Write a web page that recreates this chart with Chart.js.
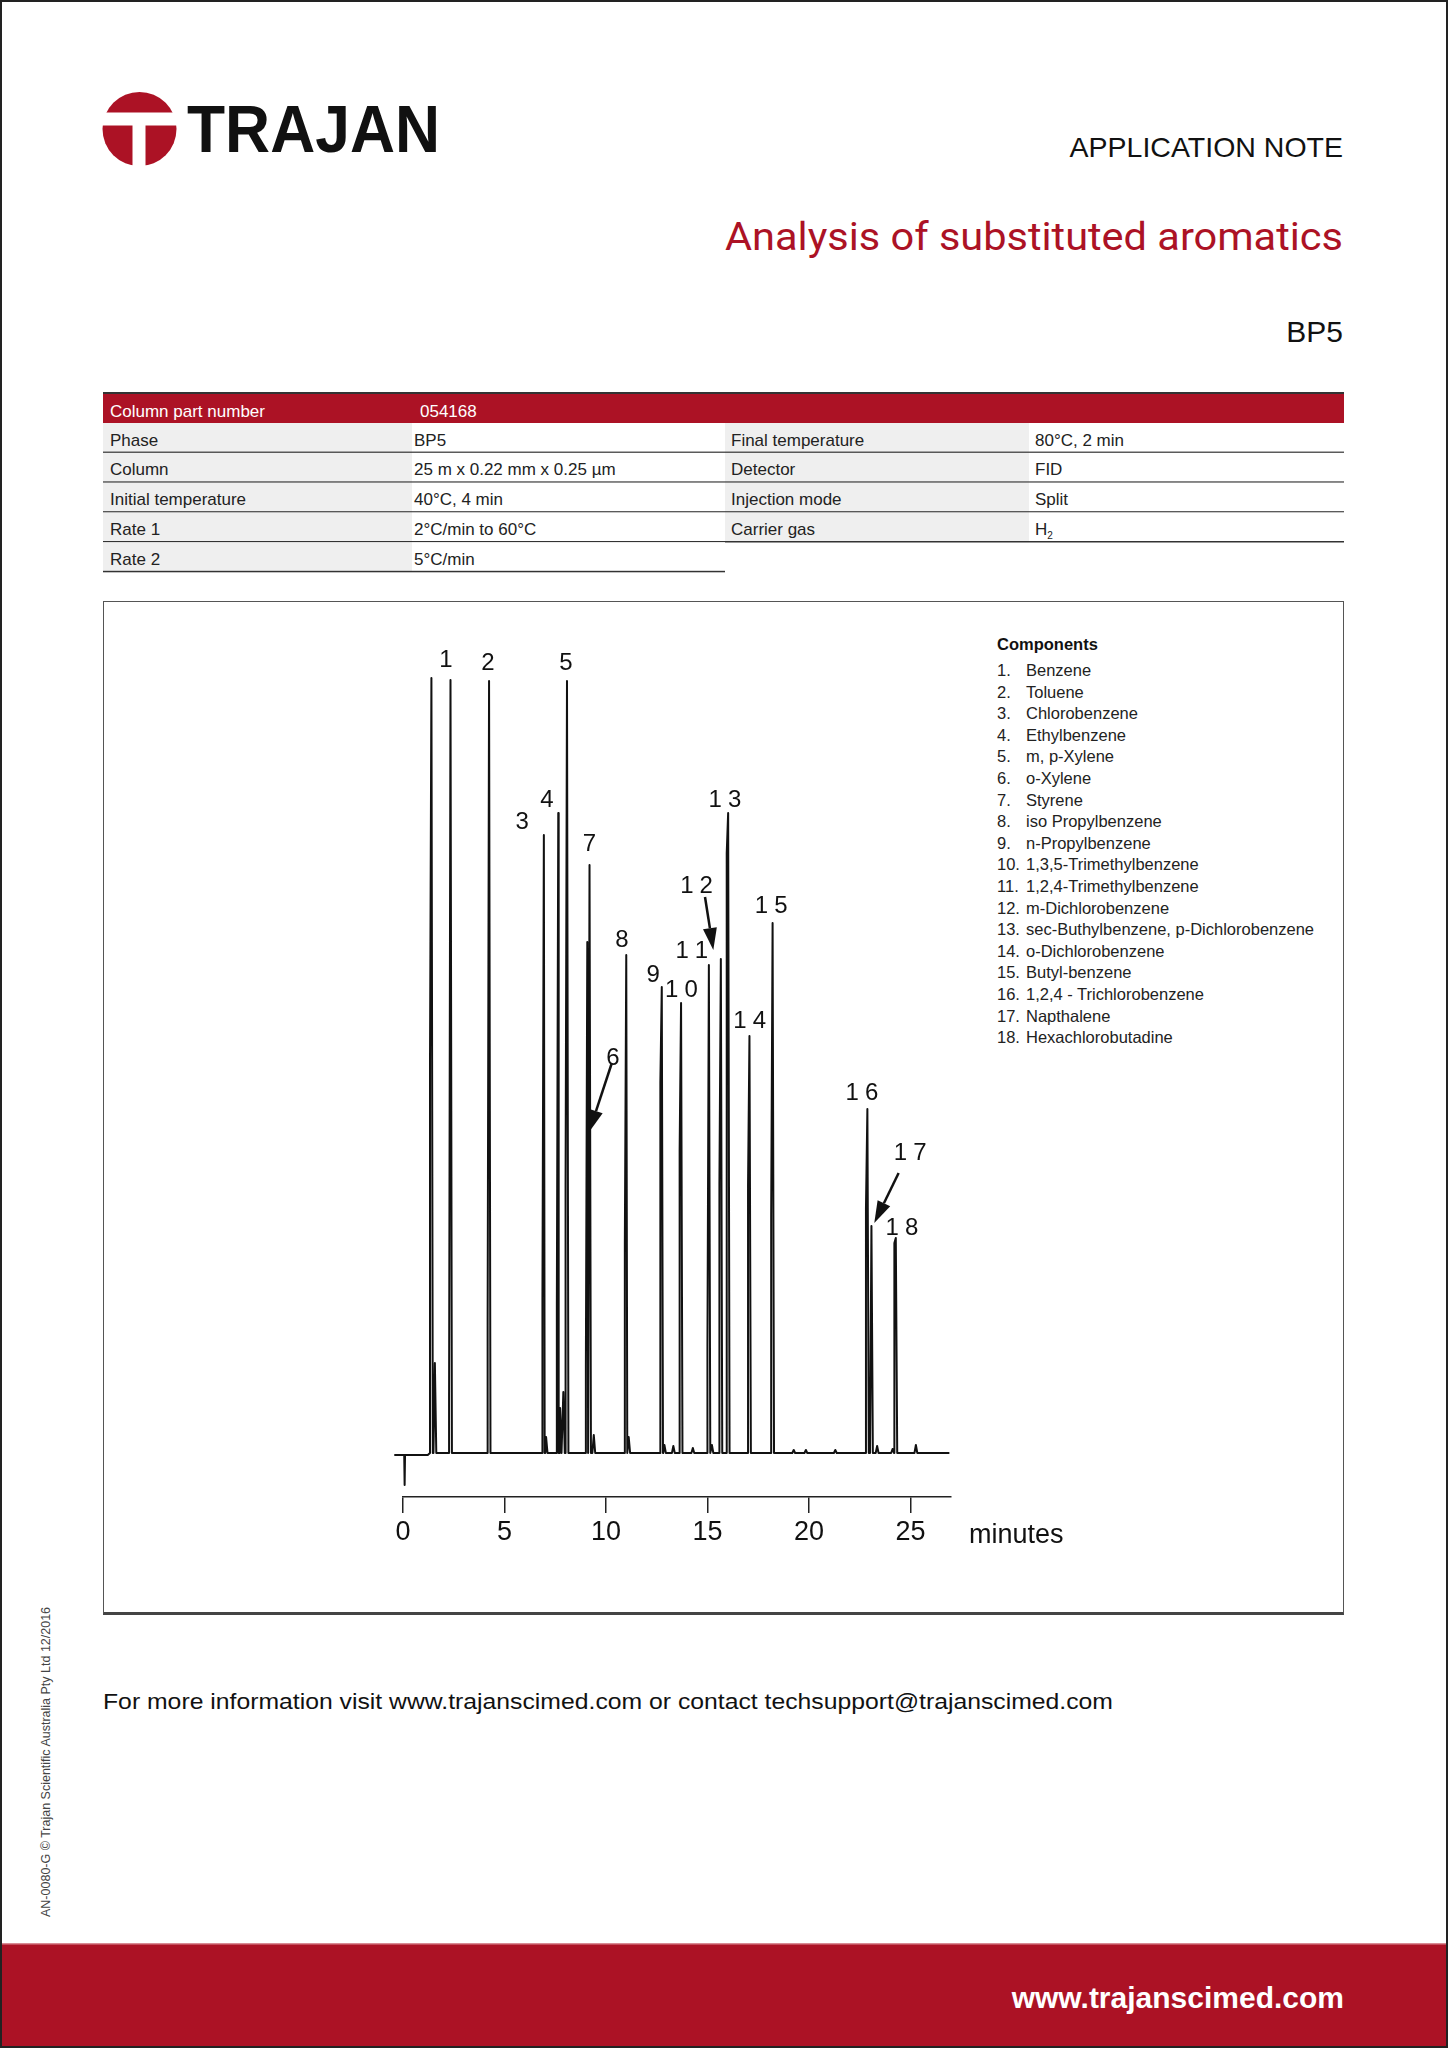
<!DOCTYPE html>
<html>
<head>
<meta charset="utf-8">
<title>Analysis of substituted aromatics - BP5</title>
<script src="https://cdn.jsdelivr.net/npm/chart.js@4.4.1/dist/chart.umd.min.js"></script>
<style>
    html, body { margin: 0; padding: 0; background: #fff; }
    #page { position: relative; width: 1448px; height: 2048px; overflow: hidden; font-family: "Liberation Sans", Arial, sans-serif; }
    #art { position: absolute; left: 0; top: 0; }
    #chartBox { position: absolute; left: 103px; top: 601px; width: 1241px; height: 1014px; box-sizing: border-box; border: 1.5px solid #555; border-bottom: 3px solid #444; }
    #chartWrap { position: absolute; left: 383px; top: 620px; width: 588px; height: 960px; }
    #minutes { position: absolute; left: 969px; top: 1521px; font-size: 27px; line-height: 27px; color: #111; }
    #frame { position: absolute; left: 0; top: 0; width: 1448px; height: 2048px; box-sizing: border-box; border: 2px solid #222; pointer-events: none; }
</style>
</head>
<body>
<div id="page">
    <svg id="art" width="1448" height="2048" xmlns="http://www.w3.org/2000/svg"></svg>
    <div id="chartBox"></div>
    <div id="chartWrap"><canvas id="gc" width="588" height="960" style="width:588px;height:960px"></canvas></div>
    <div id="minutes">minutes</div>
    <div id="frame"></div>
</div>
<script>
// retention time (min), peak height, rising-edge shoulder height (response units)
const peakTimes     = [1.40, 1.57, 2.34, 4.24, 6.94, 7.05, 7.65, 7.74, 7.90, 8.08, 9.08, 9.19, 9.40, 11.00, 11.12, 12.75, 12.88, 13.32, 13.70, 14.28, 15.07, 15.22, 15.66, 16.02, 17.07, 18.21, 19.25, 19.85, 21.30, 22.88, 23.08, 23.36, 24.12, 24.28, 25.27];
const peakHeights   = [77.5, 9.0, 77.3, 77.2, 61.8, 1.6, 64.0, 4.5, 6.1, 77.2, 51.1, 58.8, 1.8, 49.8, 1.6, 46.6, 0.8, 0.7, 45.0, 0.5, 48.8, 0.8, 49.4, 64.0, 41.7, 53.0, 0.3, 0.3, 0.3, 34.4, 22.7, 0.7, 0.4, 21.5, 0.8];
const peakShoulders = [39, 0, 6, 13.5, 15.5, 0, 15.1, 0, 0, 27, 8.8, 0, 0, 21, 0, 37.1, 0, 0, 30.3, 0, 10.8, 0, 27, 60, 26.8, 23.8, 0, 0, 0, 24.5, 0, 0, 0, 21, 0];

// baseline with the injection dip
const baseTimes  = [-0.43, 0.06, 0.08, 0.10, 1.22, 26.92];
const baseLevels = [-0.2, -0.2, -3.2, -0.2, -0.2, 0];

const xTicks = [0, 5, 10, 15, 20, 25];

// peak numbers and where they sit (time, response)
const labelText  = ['1', '2', '3', '4', '5', '6', '7', '8', '9', '10', '11', '12', '13', '14', '15', '16', '17', '18'];
const labelTime  = [2.11, 4.18, 5.87, 7.09, 8.03, 10.34, 9.19, 10.79, 12.33, 13.72, 14.23, 14.46, 15.86, 17.08, 18.14, 22.61, 24.99, 24.58];
const labelLevel = [78.6, 78.3, 62.4, 64.6, 78.3, 38.8, 60.2, 50.6, 47.1, 45.6, 49.5, 56.0, 64.6, 42.5, 54.0, 35.3, 29.3, 21.8];

// arrows for peaks 6, 12, 17
const arrowFromT = [10.29, 14.88, 24.42];
const arrowFromV = [39.0, 55.6, 28.0];
const arrowToT   = [9.17, 15.29, 23.22];
const arrowToV   = [32.1, 50.3, 23.0];

const components = ['Benzene', 'Toluene', 'Chlorobenzene', 'Ethylbenzene', 'm, p-Xylene', 'o-Xylene', 'Styrene',
    'iso Propylbenzene', 'n-Propylbenzene', '1,3,5-Trimethylbenzene', '1,2,4-Trimethylbenzene', 'm-Dichlorobenzene',
    'sec-Buthylbenzene, p-Dichlorobenzene', 'o-Dichlorobenzene', 'Butyl-benzene', '1,2,4 - Trichlorobenzene',
    'Napthalene', 'Hexachlorobutadine'];

const tableRows = [
    ['Phase', 'BP5', 'Final temperature', '80°C, 2 min'],
    ['Column', '25 m x 0.22 mm x 0.25 µm', 'Detector', 'FID'],
    ['Initial temperature', '40°C, 4 min', 'Injection mode', 'Split'],
    ['Rate 1', '2°C/min to 60°C', 'Carrier gas', 'H<tspan font-size="10" dy="4">2</tspan>'],
    ['Rate 2', '5°C/min']
];

const RED = '#ac1225';
const FONT = '"Liberation Sans", Arial, sans-serif';

function buildArt() {
    let s = '';
    // logo
    s += `<circle cx="139.5" cy="129" r="37" fill="${RED}"/>
          <rect x="100" y="112.5" width="80" height="13" fill="#fff"/>
          <rect x="132.5" y="125" width="13" height="46" fill="#fff"/>
          <text x="187" y="152" font-family="${FONT}" font-size="67" font-weight="bold" fill="#111" textLength="253" lengthAdjust="spacingAndGlyphs">TRAJAN</text>`;
    s += `<text x="1343" y="157" text-anchor="end" font-family="${FONT}" font-size="28.5" fill="#111">APPLICATION NOTE</text>
          <text x="1343" y="250" text-anchor="end" font-family="Roboto, 'Noto Sans', sans-serif" font-size="39" fill="${RED}" textLength="618" lengthAdjust="spacingAndGlyphs">Analysis of substituted aromatics</text>
          <text x="1343" y="342" text-anchor="end" font-family="${FONT}" font-size="30" fill="#111">BP5</text>`;

    // parameter table
    const colX = [103, 412, 725, 1029, 1344];
    const pad = [7, 2, 6, 6];
    const tf = 17;
    s += `<rect x="103" y="392" width="1241" height="2" fill="#333"/>
          <rect x="103" y="394" width="1241" height="29" fill="${RED}"/>
          <text x="110" y="417" font-family="${FONT}" font-size="${tf}" fill="#fff">Column part number</text>
          <text x="420" y="417" font-family="${FONT}" font-size="${tf}" fill="#fff">054168</text>`;
    tableRows.forEach((row, r) => {
        const top = 423 + 29.8 * r;
        row.forEach((cell, c) => {
            const fill = c % 2 === 0 ? '#efefef' : '#fff';
            s += `<rect x="${colX[c]}" y="${top}" width="${colX[c + 1] - colX[c]}" height="29.8" fill="${fill}"/>`;
            s += `<text x="${colX[c] + pad[c]}" y="${top + 22.5}" font-family="${FONT}" font-size="${tf}" fill="#222">${cell}</text>`;
        });
        const right = colX[row.length];
        s += `<rect x="103" y="${top + 28.6}" width="${right - 103}" height="1.5" fill="#333"/>`;
    });

    // components list
    s += `<text x="997" y="650" font-family="${FONT}" font-size="16.5" font-weight="bold" fill="#111">Components</text>`;
    components.forEach((name, i) => {
        const y = 676 + 21.6 * i;
        s += `<text x="997" y="${y}" font-family="${FONT}" font-size="16.5" fill="#222">${i + 1}.</text>`;
        s += `<text x="1026" y="${y}" font-family="${FONT}" font-size="16.5" fill="#222">${name}</text>`;
    });

    // footer
    s += `<text x="103" y="1709" font-family="${FONT}" font-size="22.5" fill="#111" textLength="1010" lengthAdjust="spacingAndGlyphs">For more information visit www.trajanscimed.com or contact techsupport@trajanscimed.com</text>
          <text transform="translate(50,1917) rotate(-90)" font-family="${FONT}" font-size="12.5" fill="#444">AN-0080-G © Trajan Scientific Australia Pty Ltd 12/2016</text>
          <rect x="0" y="1944" width="1448" height="104" fill="${RED}"/>
          <rect x="0" y="1943" width="1448" height="1.5" fill="#d98a93"/>
          <text x="1344" y="2008" text-anchor="end" font-family="${FONT}" font-size="30" font-weight="bold" fill="#fff">www.trajanscimed.com</text>`;
    document.getElementById('art').innerHTML = s;
}

function buildTrace() {
    const hw = 0.07;
    const pts = baseTimes.map((t, i) => ({ x: t, y: baseLevels[i] }));
    peakTimes.forEach((t, i) => {
        pts.push({ x: t - hw, y: 0 });
        if (peakShoulders[i] > 0) pts.push({ x: t - hw, y: peakShoulders[i] });
        pts.push({ x: t, y: peakHeights[i] });
        pts.push({ x: t + hw, y: 0 });
    });
    return pts.sort((a, b) => a.x - b.x);
}

function drawSpaced(ctx, text, cx, baseY, gap) {
    const widths = [...text].map(ch => ctx.measureText(ch).width);
    const total = widths.reduce((a, b) => a + b, 0) + gap * (widths.length - 1);
    let x = cx - total / 2;
    [...text].forEach((ch, i) => {
        ctx.fillText(ch, x, baseY);
        x += widths[i] + gap;
    });
}

const annotate = {
    id: 'annotate',
    afterDatasetsDraw(chart) {
        const { ctx, scales: { x, y } } = chart;
        ctx.save();
        ctx.fillStyle = '#111';
        ctx.strokeStyle = '#111';
        ctx.font = `24px ${FONT}`;
        ctx.textAlign = 'left';
        ctx.textBaseline = 'alphabetic';
        labelText.forEach((t, i) => {
            drawSpaced(ctx, t, x.getPixelForValue(labelTime[i]), y.getPixelForValue(labelLevel[i]), 6);
        });
        ctx.lineWidth = 2.5;
        arrowFromT.forEach((t, i) => {
            const fx = x.getPixelForValue(t), fy = y.getPixelForValue(arrowFromV[i]);
            const tx = x.getPixelForValue(arrowToT[i]), ty = y.getPixelForValue(arrowToV[i]);
            const ang = Math.atan2(ty - fy, tx - fx);
            const len = 22, half = 7;
            const bx = tx - len * Math.cos(ang), by = ty - len * Math.sin(ang);
            ctx.beginPath();
            ctx.moveTo(fx, fy);
            ctx.lineTo(bx, by);
            ctx.stroke();
            ctx.beginPath();
            ctx.moveTo(tx, ty);
            ctx.lineTo(bx + half * Math.sin(ang), by - half * Math.cos(ang));
            ctx.lineTo(bx - half * Math.sin(ang), by + half * Math.cos(ang));
            ctx.closePath();
            ctx.fill();
        });
        ctx.restore();
    }
};

function renderChart() {
    new Chart(document.getElementById('gc'), {
        type: 'line',
        data: {
            datasets: [{
                data: buildTrace(),
                borderColor: '#111',
                borderWidth: 2,
                borderJoinStyle: 'round',
                pointRadius: 0,
                tension: 0,
                clip: false
            }]
        },
        options: {
            responsive: false,
            animation: false,
            devicePixelRatio: 1,
            layout: { padding: { left: 20, right: 20, top: 20, bottom: 0 } },
            plugins: { legend: { display: false }, tooltip: { enabled: false } },
            scales: {
                x: {
                    type: 'linear',
                    min: 0,
                    max: 27,
                    afterFit(scale) { scale.height = 83; },
                    afterBuildTicks(scale) { scale.ticks = xTicks.map(v => ({ value: v })); },
                    border: { display: true, color: '#222', width: 1.5 },
                    grid: { display: true, drawOnChartArea: false, drawTicks: true, tickLength: 16, color: '#222', lineWidth: 1.5 },
                    ticks: { color: '#111', padding: 3, maxRotation: 0, autoSkip: false, includeBounds: false, font: { size: 27, family: FONT } }
                },
                y: { display: false, min: -4.4, max: 81.3 }
            }
        },
        plugins: [annotate]
    });
}

buildArt();
renderChart();
</script>
</body>
</html>
